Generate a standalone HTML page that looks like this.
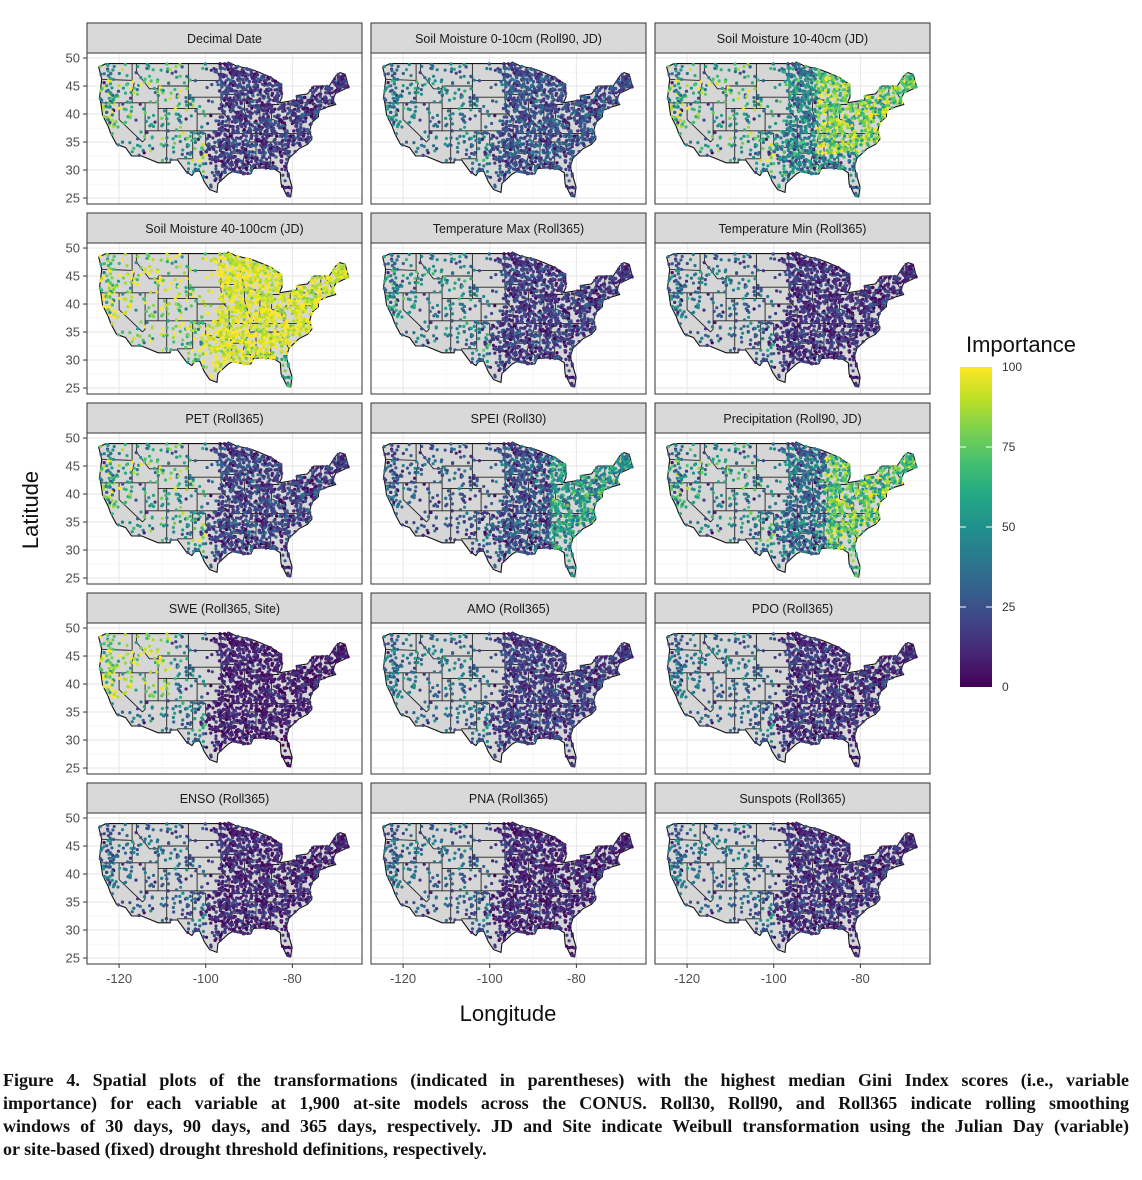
<!DOCTYPE html>
<html><head><meta charset="utf-8">
<style>
html,body{margin:0;padding:0;background:#fff;}
body{width:1142px;height:1180px;position:relative;overflow:hidden;}
#cap{position:absolute;left:3px;top:1069px;width:1126px;font-family:"Liberation Serif",serif;font-weight:bold;font-size:18px;line-height:23px;color:#111;}
#cap div{text-align:justify;text-align-last:justify;white-space:nowrap;}
#cap div.l{text-align-last:left;}
svg text{font-family:"Liberation Sans",sans-serif;}
</style></head><body>
<svg id="s" width="1142" height="1180" xmlns="http://www.w3.org/2000/svg" style="position:absolute;left:0;top:0">
<defs>
<linearGradient id="vg" x1="0" y1="1" x2="0" y2="0">
<stop offset="0" stop-color="#440154"/><stop offset=".1" stop-color="#482475"/><stop offset=".2" stop-color="#414487"/><stop offset=".3" stop-color="#355f8d"/><stop offset=".4" stop-color="#2a788e"/><stop offset=".5" stop-color="#21918c"/><stop offset=".6" stop-color="#22a884"/><stop offset=".7" stop-color="#44bf70"/><stop offset=".8" stop-color="#7ad151"/><stop offset=".9" stop-color="#bddf26"/><stop offset="1" stop-color="#fde725"/>
</linearGradient>
</defs>
<g id="panels"></g>
<text x="1021" y="352" font-size="22" text-anchor="middle" fill="#111">Importance</text>
<rect x="960" y="367" width="32" height="320" fill="url(#vg)"/>
<g stroke="#fff" stroke-width="1"><line x1="960" y1="447" x2="966" y2="447"/><line x1="986" y1="447" x2="992" y2="447"/><line x1="960" y1="527" x2="966" y2="527"/><line x1="986" y1="527" x2="992" y2="527"/><line x1="960" y1="607" x2="966" y2="607"/><line x1="986" y1="607" x2="992" y2="607"/></g>
<g font-size="12" fill="#333"><text x="1002" y="371">100</text><text x="1002" y="451">75</text><text x="1002" y="531">50</text><text x="1002" y="611">25</text><text x="1002" y="691">0</text></g>
<text x="508" y="1021" font-size="22" text-anchor="middle" fill="#111">Longitude</text>
<text transform="translate(38,510) rotate(-90)" font-size="22" text-anchor="middle" fill="#111">Latitude</text>
</svg>
<div id="cap"><div>Figure 4. Spatial plots of the transformations (indicated in parentheses) with the highest median Gini Index scores (i.e., variable</div><div>importance) for each variable at 1,900 at-site models across the CONUS. Roll30, Roll90, and Roll365 indicate rolling smoothing</div><div>windows of 30 days, 90 days, and 365 days, respectively. JD and Site indicate Weibull transformation using the Julian Day (variable)</div><div class="l">or site-based (fixed) drought threshold definitions, respectively.</div></div>
<script>
var NS="http://www.w3.org/2000/svg";
var G=document.getElementById("panels");
function el(t,a,p){var e=document.createElementNS(NS,t);for(var k in a)e.setAttribute(k,a[k]);(p||G).appendChild(e);return e;}
var US=[[-124.7,48.4],[-123,49],[-95.2,49],[-94.8,49.3],[-93,48.6],[-89.6,48],[-87.5,47.4],[-84.8,46.5],[-84,46],[-82.5,45.3],[-82.4,43],[-83,42],[-79,42.5],[-79,43.3],[-76.5,43.6],[-75,45],[-71.5,45],[-70,46.8],[-69,47.4],[-67.8,47.1],[-67,44.8],[-70,43.7],[-70.7,42.6],[-70,41.7],[-71.8,41.3],[-74,40.6],[-74,39.5],[-75.5,38.5],[-76,37],[-75.5,35.5],[-76.5,34.6],[-78.5,33.8],[-80.8,32.1],[-81.4,30.5],[-80.1,27],[-80.4,25.2],[-81.2,25.3],[-82.6,27.5],[-82.8,29.5],[-84,30.1],[-86.5,30.4],[-89,30.3],[-89.6,29.3],[-91,29.3],[-93.8,29.7],[-94.8,29.3],[-97.2,27.6],[-97.4,26],[-99.1,26.5],[-100.3,27.9],[-101.4,29.8],[-102.5,29.8],[-103.2,29],[-104.5,29.7],[-106.5,31.8],[-108.2,31.8],[-108.2,31.3],[-111,31.3],[-114.8,32.5],[-117.1,32.5],[-118.5,34],[-120.6,34.6],[-121.9,36.5],[-122.5,37.8],[-123.8,39.8],[-124.2,41.9],[-124.5,43],[-124,46.2],[-124.7,48.4]];
var LINES=[[[-117,49],[-117,46],[-116.5,45.5],[-117,44],[-117,42]],[[-124.2,42],[-111,42]],[[-124,46.2],[-117,46]],[[-116,49],[-116,47.5],[-114.5,46],[-113,44.5],[-111,44.5]],[[-111,45],[-104,45]],[[-104,49],[-104,41]],[[-111,45],[-111,37]],[[-111,41],[-102,41],[-102,40]],[[-109,41],[-109,31.3]],[[-114,42],[-114,35.5],[-114.6,35]],[[-120,42],[-120,39],[-114.6,35]],[[-114,37],[-94.6,37]],[[-102,41],[-102,36.5],[-103,36.5],[-103,32],[-106.6,32]],[[-102,36.5],[-100,36.5],[-100,34.5],[-97,34],[-94,33.6]],[[-102,40],[-95.3,40]],[[-104,46],[-96.5,46]],[[-104,43],[-96.5,43]],[[-96.5,49],[-96.5,42.5],[-95.8,40],[-94.6,39],[-94.6,36.5]],[[-94.6,36.5],[-94.4,33.6],[-94,33],[-94,29.7]],[[-94,33],[-91,33]],[[-92.5,47],[-91.2,43.5],[-91,40.5],[-90.2,38.5],[-89.4,37],[-90,35],[-91,33],[-91.5,31],[-89.7,31],[-89.6,30.2]],[[-96.5,43.5],[-91.2,43.5]],[[-91,42.5],[-87.8,42.5]],[[-94.6,36.5],[-75.8,36.5]],[[-90,35],[-83,35]],[[-85,35],[-85,31],[-87.5,31],[-87.5,30.3]],[[-88.4,35],[-88.4,30.3]],[[-87.5,41.7],[-87.5,38],[-88,37.8]],[[-84.8,41.7],[-84.8,39.1]],[[-89.1,37],[-86,37.8],[-84.8,39.1],[-82.6,38.5],[-80.5,40.6],[-80.5,42]],[[-80.5,39.7],[-75.5,39.7]],[[-87.5,41.7],[-84.8,41.7],[-83,41.7]],[[-83,35],[-80.8,32.1]],[[-81.7,36.5],[-82.6,38.5]],[[-79.5,42],[-75,42],[-73.5,41]],[[-73.5,45],[-73.3,42]],[[-71.8,42],[-73.3,42]],[[-72.5,45],[-71,43],[-70.7,42.8]]];
var PX0=87,PY0=53,W=275,H=151;
function mx(c,lon){return PX0+284*c+(lon+127.4)*4.333;}
function my(r,lat){return PY0+190*r+(50.9-lat)*5.6;}
function inPoly(x,y){var ins=false;for(var i=0,j=US.length-1;i<US.length;j=i++){var xi=US[i][0],yi=US[i][1],xj=US[j][0],yj=US[j][1];if(((yi>y)!=(yj>y))&&(x<(xj-xi)*(y-yi)/(yj-yi)+xi))ins=!ins;}return ins;}
var seed=12345;function rnd(){seed=(seed*1103515245+12345)%2147483648;return seed/2147483648;}
var pts=[];var tries=0;
while(pts.length<1900&&tries<200000){tries++;var lo=-125+rnd()*58,la=24.5+rnd()*25;if(!inPoly(lo,la))continue;var p=lo>-97?1:(lo>-104?0.4:0.15);if(lo<-121&&lo>-125)p=0.5;if(lo>-104&&lo<-97&&la>37)p=0.12;if(rnd()>p)continue;pts.push([lo,la,rnd(),rnd()]);}
var STOPS=[[68,1,84],[72,36,117],[65,68,135],[53,95,141],[42,120,142],[33,145,140],[34,168,132],[68,191,112],[122,209,81],[189,223,38],[253,231,37]];
function vir(v){v=Math.max(0,Math.min(100,v))/10;var i=Math.min(9,Math.floor(v)),f=v-i,a=STOPS[i],b=STOPS[i+1];return "rgb("+Math.round(a[0]+(b[0]-a[0])*f)+","+Math.round(a[1]+(b[1]-a[1])*f)+","+Math.round(a[2]+(b[2]-a[2])*f)+")";}
function nz(p,a){return (p[2]+p[3]-1)*a;}
var F=[
function(p){return p[0]<-100?55+nz(p,60):18+nz(p,22);},
function(p){return p[0]<-100?38+nz(p,35):25+nz(p,25);},
function(p){if(p[0]<-100)return 55+nz(p,60);if(p[0]>-90&&p[1]>33)return 80+nz(p,40);return 45+nz(p,40);},
function(p){if(p[0]<-100)return 80+nz(p,50);if(p[1]<31&&p[0]>-84)return 70+nz(p,40);return 95+nz(p,20);},
function(p){return p[0]<-100?42+nz(p,40):18+nz(p,22);},
function(p){return p[0]<-100?32+nz(p,35):15+nz(p,20);},
function(p){return p[0]<-100?55+nz(p,55):20+nz(p,25);},
function(p){if(p[0]<-100)return 25+nz(p,30);return p[0]>-86?55+nz(p,35):25+nz(p,30);},
function(p){if(p[0]<-100)return 45+nz(p,50);return p[0]>-88?75+nz(p,40):35+nz(p,35);},
function(p){if(p[0]<-108&&p[1]>37)return 80+nz(p,40);if(p[0]<-100)return 40+nz(p,40);if(p[1]<31&&p[0]>-84)return 3;return 10+nz(p,15);},
function(p){return p[0]<-100?35+nz(p,30):18+nz(p,20);},
function(p){return p[0]<-100?33+nz(p,30):15+nz(p,20);},
function(p){return p[0]<-100?30+nz(p,30):12+nz(p,18);},
function(p){return p[0]<-100?30+nz(p,30):12+nz(p,18);},
function(p){return p[0]<-100?32+nz(p,30):15+nz(p,20);}];
var T=["Decimal Date","Soil Moisture 0-10cm (Roll90, JD)","Soil Moisture 10-40cm (JD)","Soil Moisture 40-100cm (JD)","Temperature Max (Roll365)","Temperature Min (Roll365)","PET (Roll365)","SPEI (Roll30)","Precipitation (Roll90, JD)","SWE (Roll365, Site)","AMO (Roll365)","PDO (Roll365)","ENSO (Roll365)","PNA (Roll365)","Sunspots (Roll365)"];
for(var k=0;k<15;k++){
var r=Math.floor(k/3),c=k%3,x0=PX0+284*c,y0=PY0+190*r;
el("rect",{x:x0,y:y0,width:W,height:H,fill:"#fff"});
for(var la=22.5;la<=50;la+=2.5){var y=my(r,la);if(y<y0||y>y0+H)continue;el("line",{x1:x0,x2:x0+W,y1:y,y2:y,stroke:(la%5==0)?"#e6e6e6":"#f3f3f3","stroke-width":(la%5==0)?1:0.6});}
for(var lo=-130;lo<=-60;lo+=10){var x=mx(c,lo);if(x<x0||x>x0+W)continue;el("line",{y1:y0,y2:y0+H,x1:x,x2:x,stroke:(lo%20==0)?"#e6e6e6":"#f3f3f3","stroke-width":(lo%20==0)?1:0.6});}
var d="";US.forEach(function(q,i){d+=(i?"L":"M")+mx(c,q[0]).toFixed(1)+" "+my(r,q[1]).toFixed(1);});
el("path",{d:d+"Z",fill:"#d6d6d6",stroke:"#111","stroke-width":1.1});
var ld="";LINES.forEach(function(L){L.forEach(function(q,i){ld+=(i?"L":"M")+mx(c,q[0]).toFixed(1)+" "+my(r,q[1]).toFixed(1);});});
el("path",{d:ld,fill:"none",stroke:"#222","stroke-width":0.9});
var g=el("g",{});
for(var i=0;i<pts.length;i++){var p=pts[i];el("circle",{cx:mx(c,p[0]).toFixed(1),cy:my(r,p[1]).toFixed(1),r:1.6,fill:vir(F[k](p))},g);}
el("rect",{x:x0,y:y0,width:W,height:H,fill:"none",stroke:"#333","stroke-width":1});
el("rect",{x:x0,y:y0-30,width:W,height:30,fill:"#d9d9d9",stroke:"#333","stroke-width":1});
var t=el("text",{x:x0+W/2,y:y0-10,"font-size":12.5,"text-anchor":"middle",fill:"#1a1a1a"});t.textContent=T[k];
if(c==0){for(var la2=25;la2<=50;la2+=5){var yy=my(r,la2);el("line",{x1:x0-4,x2:x0,y1:yy,y2:yy,stroke:"#333"});var tt=el("text",{x:x0-7,y:yy+4.5,"font-size":13,"text-anchor":"end",fill:"#4d4d4d"});tt.textContent=la2;}}
if(r==4){[-120,-100,-80].forEach(function(lo){var xx=mx(c,lo);el("line",{x1:xx,x2:xx,y1:y0+H,y2:y0+H+4,stroke:"#333"});var tt=el("text",{x:xx,y:y0+H+19,"font-size":13,"text-anchor":"middle",fill:"#4d4d4d"});tt.textContent=lo;});}
}
</script>
</body></html>
